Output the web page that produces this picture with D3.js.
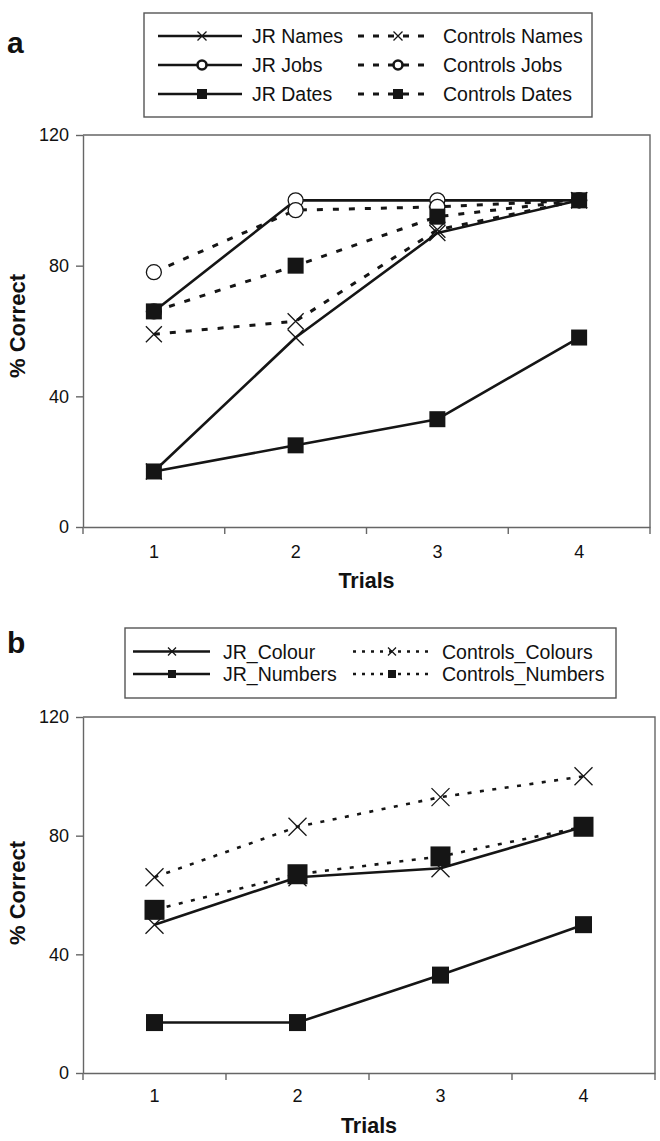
<!DOCTYPE html>
<html><head><meta charset="utf-8">
<script src="https://cdn.jsdelivr.net/npm/d3@7"></script>
<style>
body{margin:0;background:#fff;}
svg{display:block;font-family:"Liberation Sans",Arial,sans-serif;}
</style>
</head><body>
<svg id="c" width="660" height="1141"></svg>
<script>
// ---------- data ----------
const trials = ["1","2","3","4"];
const yTicks = [0,40,80,120];

// panel a
const seriesA = ["JR Names","Controls Names","JR Jobs","Controls Jobs","JR Dates","Controls Dates"];
const jrNames   = [17,58,90,100];
const ctrlNames = [59,63,91,100];
const jrJobs    = [66,100,100,100];
const ctrlJobs  = [78,97,98,100];
const jrDates   = [17,25,33,58];
const ctrlDates = [66,80,95,100];

// panel b
const seriesB = ["JR_Colour","Controls_Colours","JR_Numbers","Controls_Numbers"];
const jrColour    = [50,66,69,83];
const ctrlColours = [66,83,93,100];
const jrNumbers   = [17,17,33,50];
const ctrlNumbers = [55,67,73,83];

// ---------- drawing ----------
const svg = d3.select("#c");
const INK = "#151515", AX = "#666";

function marker(g, type, x, y, size, legend){
  if(type==="x"){
    const h=size/2;
    g.append("path").attr("d",`M${x-h},${y-h}L${x+h},${y+h}M${x-h},${y+h}L${x+h},${y-h}`)
      .attr("stroke",INK).attr("stroke-width",1.3).attr("fill","none");
  } else if(type==="o"){
    g.append("circle").attr("cx",x).attr("cy",y).attr("r",size/2)
      .attr("fill","#fff").attr("stroke",INK).attr("stroke-width",legend?2.6:1.3);
  } else {
    g.append("rect").attr("x",x-size/2).attr("y",y-size/2).attr("width",size).attr("height",size)
      .attr("fill",INK);
  }
}

function panel(cfg){
  const g = svg.append("g");
  const x = d3.scaleBand().domain(trials).range([cfg.left,cfg.right]);
  const y = d3.scaleLinear().domain([0,120]).range([cfg.bottom,cfg.top]);

  // plot frame (top & right)
  g.append("path").attr("d",`M${cfg.left},${cfg.top}H${cfg.right}V${cfg.bottom}`)
    .attr("fill","none").attr("stroke",AX).attr("stroke-width",1.4);

  // y axis
  const ya = g.append("g").attr("transform",`translate(${cfg.left},0)`)
    .call(d3.axisLeft(y).tickValues(yTicks).tickSize(7).tickPadding(7).tickSizeOuter(0));
  ya.select(".domain").attr("stroke",AX).attr("stroke-width",1.4);
  ya.selectAll(".tick line").attr("stroke",AX).attr("stroke-width",1.4);
  ya.selectAll("text").attr("font-size",18).attr("fill","#111").attr("font-family","Liberation Sans, Arial, sans-serif");

  // x axis labels
  const xa = g.append("g").attr("transform",`translate(0,${cfg.bottom})`)
    .call(d3.axisBottom(x).tickSize(0).tickPadding(cfg.xPad).tickSizeOuter(0));
  xa.select(".domain").attr("stroke",AX).attr("stroke-width",1.4);
  xa.selectAll("text").attr("font-size",18).attr("fill","#111").attr("font-family","Liberation Sans, Arial, sans-serif");
  // boundary tick marks
  const bounds = trials.map(t=>x(t)).concat([x.range()[1]]);
  g.selectAll(null).data(bounds).enter().append("line")
    .attr("x1",d=>d).attr("x2",d=>d).attr("y1",cfg.bottom).attr("y2",cfg.bottom+7)
    .attr("stroke",AX).attr("stroke-width",1.4);

  // titles
  g.append("text").attr("x",(cfg.left+cfg.right)/2).attr("y",cfg.xTitleY)
    .attr("text-anchor","middle").attr("font-weight","bold").attr("font-size",21.5).attr("fill","#111").text("Trials");
  g.append("text").attr("transform",`translate(${cfg.yTitleX},${cfg.yTitleY}) rotate(-90)`)
    .attr("text-anchor","middle").attr("font-weight","bold").attr("font-size",22).attr("fill","#111").text("% Correct");
  g.append("text").attr("x",7).attr("y",cfg.letterY).attr("font-weight","bold").attr("font-size",30)
    .attr("fill","#111").text(cfg.letter);

  // series
  const line = d3.line().x((d,i)=>x(trials[i])+x.bandwidth()/2).y(d=>y(d));
  cfg.series.forEach(s=>{
    g.append("path").datum(s.values).attr("d",line).attr("fill","none")
      .attr("stroke",INK).attr("stroke-width",s.dash?cfg.dashW:2.6)
      .attr("stroke-dasharray",s.dash||null).attr("stroke-linejoin","round");
    s.values.forEach((v,i)=>marker(g,s.mark,x(trials[i])+x.bandwidth()/2,y(v),s.size,false));
  });

  // legend
  const L = cfg.legend;
  g.append("rect").attr("x",L.x0).attr("y",L.y0).attr("width",L.x1-L.x0).attr("height",L.y1-L.y0)
    .attr("fill","#fff").attr("stroke","#555").attr("stroke-width",1.4);
  cfg.series.forEach((s,k)=>{
    const col = k%2, row = Math.floor(k/2);
    const cy = L.rows[row];
    const sx0 = L.cols[col][0], sx1 = L.cols[col][1], mx = L.cols[col][2], tx = L.cols[col][3];
    g.append("line").attr("x1",sx0).attr("x2",sx1).attr("y1",cy).attr("y2",cy)
      .attr("stroke",INK).attr("stroke-width",s.dash?cfg.dashW:2.6).attr("stroke-dasharray",s.dash?L.dash:null);
    marker(g,s.mark,mx,cy,s.lsize,true);
    g.append("text").attr("x",tx).attr("y",cy+7).attr("font-size",L.fs).attr("fill","#111").text(s.name);
  });
}

panel({
  left:83,right:650,top:135,bottom:527,xPad:18,xTitleY:588,yTitleX:25,yTitleY:326,letter:"a",letterY:53,dashW:3,
  series:[
    {name:seriesA[0],values:jrNames,  mark:"x",size:16,lsize:9, dash:null},
    {name:seriesA[1],values:ctrlNames,mark:"x",size:16,lsize:9, dash:"6,10"},
    {name:seriesA[2],values:jrJobs,   mark:"o",size:15,lsize:9, dash:null},
    {name:seriesA[3],values:ctrlJobs, mark:"o",size:15,lsize:9, dash:"6,10"},
    {name:seriesA[4],values:jrDates,  mark:"s",size:16,lsize:10,dash:null},
    {name:seriesA[5],values:ctrlDates,mark:"s",size:16,lsize:10,dash:"6,10"}
  ],
  legend:{x0:144,x1:592,y0:13,y1:117,rows:[36,65,94],fs:19.5,dash:"6,9",
    cols:[[158,242,202,252],[358,432,398,443]]}
});

panel({
  left:83,right:655,top:717,bottom:1073,xPad:16,xTitleY:1133,yTitleX:25,yTitleY:893,letter:"b",letterY:653,dashW:2.6,
  series:[
    {name:seriesB[0],values:jrColour,   mark:"x",size:18,lsize:8, dash:null},
    {name:seriesB[1],values:ctrlColours,mark:"x",size:18,lsize:8, dash:"4,8.5"},
    {name:seriesB[2],values:jrNumbers,  mark:"s",size:17,lsize:8, dash:null},
    {name:seriesB[3],values:ctrlNumbers,mark:"s",size:20,lsize:8, dash:"4,8.5"}
  ],
  legend:{x0:125,x1:616,y0:628,y1:698,rows:[651.5,674],fs:19.5,dash:"3,6",
    cols:[[133,210,172,223],[353,433,392,442]]}
});
</script>
</body></html>
